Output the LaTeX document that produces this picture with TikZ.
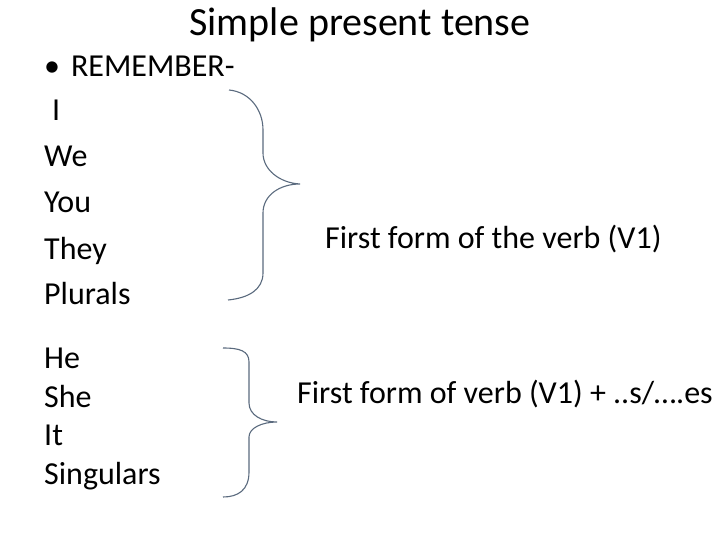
\documentclass[tikz,border=0pt]{standalone}
\usepackage{fontspec}
\setmainfont{Carlito}
\usetikzlibrary{positioning}
\definecolor{bracec}{HTML}{5A6A7E}
\definecolor{inkc}{HTML}{000000}

\begin{document}
\begin{tikzpicture}[x=1pt,y=-1pt,
    word/.style={anchor=base west,inner sep=0pt,text=inkc,font=\fontsize{32}{38}\selectfont},
    brace/.style={draw=bracec,line width=1.1pt}]
        \useasboundingbox (0,0) rectangle (720,540);
        \node[anchor=base,inner sep=0pt,font=\fontsize{40}{48}\selectfont] (title) at (360,36) {Simple present tense};
        % first group
        \node[word] (remember) at (44,77) {•\hspace{11pt}REMEMBER-};
        \node[word] (pI) at (52,121) {I};
        \node[word] (pWe) at (44,167) {We};
        \node[word] (pYou) at (44,213) {You};
        \node[word] (pThey) at (44,259) {They};
        \node[word] (pPlurals) at (44,304) {Plurals};
        \node[word] (ruleA) at (325,248) {First form of the verb (V1)};
        % second group
        \node[word] (sHe) at (44,368) {He};
        \node[word] (sShe) at (44,407) {She};
        \node[word] (sIt) at (44,445) {It};
        \node[word] (sSingulars) at (44,484) {Singulars};
        \node[word] (ruleB) at (297,403) {First form of verb (V1) + ..s/….es};
        % braces
        \draw[brace] (229,90) .. controls (250,92) and (263,110) .. (263,130) -- (263,153)
            .. controls (263,170) and (280,183) .. (300,184)
            .. controls (280,184) and (263,195) .. (263,213) -- (263,273)
            .. controls (263,290) and (248,298) .. (228,300);
        \draw[brace] (223,348) .. controls (240,348) and (249,351) .. (249,362) -- (249,403)
            .. controls (249,415) and (262,422) .. (277,422)
            .. controls (262,422) and (249,428) .. (249,437) -- (249,472)
            .. controls (249,490) and (238,497) .. (223,497);
      \end{tikzpicture}
\end{document}
